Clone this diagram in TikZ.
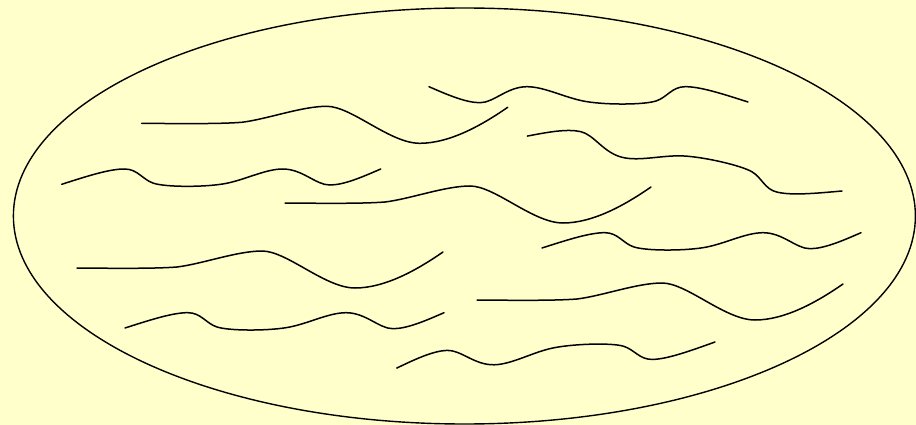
\documentclass[tikz,border=0pt]{standalone}
\usepackage{xcolor}
\definecolor{bgyellow}{HTML}{FFFFCC}
\tikzset{
  wv/.style={draw=black, line width=1.5pt, line cap=round},
  wavea/.pic={
    \draw[wv] (0,0) .. controls (50,0.5) and (80,0.5) .. (100,-1)
      .. controls (125,-4) and (160,-17) .. (185,-17)
      .. controls (210,-17) and (248,20) .. (278,20)
      .. controls (308,20) and (340,2) .. (366,-16);
  },
  waveb/.pic={
    \draw[wv] (0,0) .. controls (25,-8) and (48,-15.5) .. (63,-15.3)
      .. controls (76,-15.3) and (81,-4.5) .. (92,-1)
      .. controls (104,2.8) and (140,3) .. (161,-0.3)
      .. controls (182,-3.6) and (203,-15.3) .. (221,-15.3)
      .. controls (241,-15.3) and (254,0.7) .. (268,0.7)
      .. controls (282,0.7) and (300,-7) .. (319,-15.3);
  }
}
\begin{document}
\begin{tikzpicture}[x=1pt,y=-1pt]
\useasboundingbox (0,0) rectangle (916,425);
\fill[bgyellow] (0,0) rectangle (916,425);
\draw[line width=1.4pt] (464.4,216) ellipse [x radius=451, y radius=208];
% type A waves
\pic at (141.7,123.3) {wavea};
\pic at (285,203) {wavea};
\pic at (77,268) {wavea};
\pic at (477,300) {wavea};
% type B waves
\pic at (61.7,184.3) {waveb};
\pic at (542,248) {waveb};
\pic at (125,328) {waveb};
\pic[xscale=-1] at (748,102) {waveb};
\pic[rotate=181.94] at (715,342) {waveb};
\pic[rotate=167.35] at (842,191) {waveb};
\end{tikzpicture}
\end{document}
